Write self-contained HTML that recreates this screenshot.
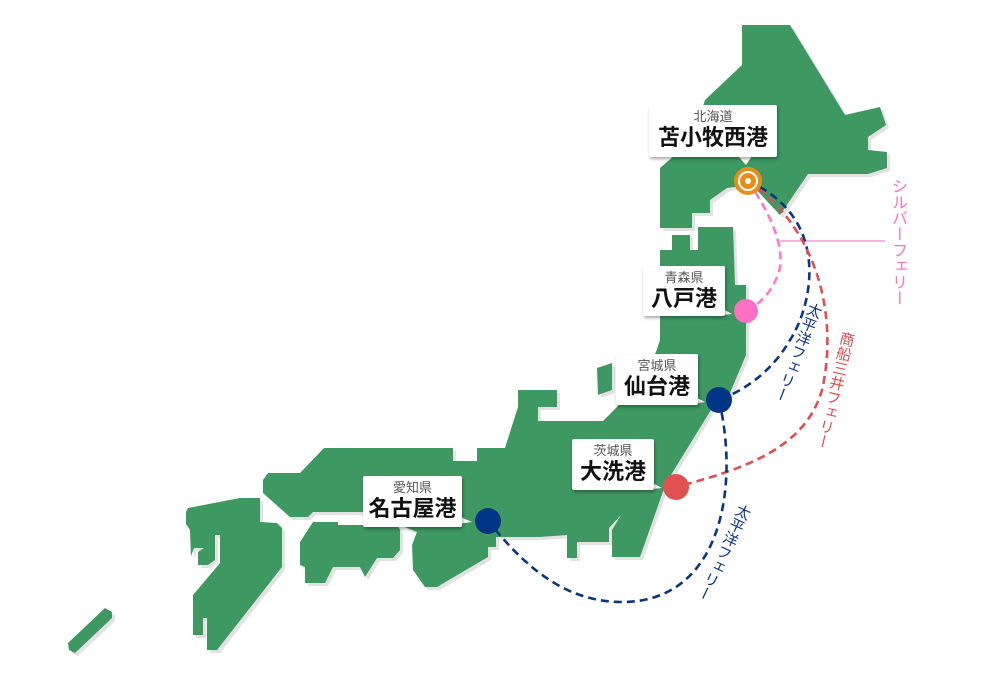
<!DOCTYPE html>
<html><head><meta charset="utf-8"><style>
body{margin:0;background:#fff;}
#w{position:relative;width:1000px;height:678px;overflow:hidden;font-family:"Liberation Sans","Noto Sans CJK JP",sans-serif;}
svg{position:absolute;left:0;top:0}
.box{position:absolute;background:#fff;box-shadow:1px 2px 3px rgba(0,0,0,.35);text-align:center;border-radius:2px}
.box .s{font-size:13px;color:#555;line-height:14px;margin-top:5px}
.box .b{font-size:22px;font-weight:bold;color:#111;line-height:28px;letter-spacing:0px;white-space:nowrap}
.vt{position:absolute;writing-mode:vertical-rl;font-size:15px;line-height:16px;transform:translate(-50%,-50%);white-space:nowrap}
</style></head><body><div id="w">
<svg width="1000" height="678" viewBox="0 0 1000 678">
<defs>
<g id="land">
<polygon points="742,25 790,25 845,115 880,107 886,125 868,137 868,150 887,152 887,168 868,174 808,174 780,215 752,185 727,188 710,200 710,213 692,213 692,228 660,228 660,168 692,140 705,100 742,65"/>
<polygon points="660,250 672,250 672,235 690,235 690,250 698,250 698,227 733,227 735,285 746,285 746,355 727,400 714,405 666,483 640,557 612,557 612,530 621,515 609,528 609,542 577,542 577,558 567,558 567,535 540,537 496,537 496,547 488,547 488,557 437,587 425,587 413,570 412,545 417,532 405,527 400,515 362,512 313,512 308,517 290,517 263,493 263,480 268,473 300,473 324,448 453,448 453,461 477,461 477,448 505,448 518,407 518,390 557,390 557,407 538,407 538,421 603,421 616,408 640,380 656,352 660,340"/>
<polygon points="597,368 612,363 612,390 598,395"/>
<polygon points="300,542 313,522 338,522 338,525 397,525 400,530 400,550 393,558 377,558 365,577 360,567 333,567 325,583 305,583 305,567 300,565"/>
<polygon points="186,512 188,508 240,498 260,498 260,522 277,523 282,528 282,567 217,650 207,650 207,618 203,618 203,635 193,635 193,595 220,563 220,535 215,535 215,560 208,565 198,565 198,552 204,548 194,548 191,556 190,530 186,524"/>
<polygon points="68,643 105,608 112,612 112,618 75,653 69,650"/>
</g></defs>
<use href="#land" fill="#e2e2e2" transform="translate(3,3)"/>
<use href="#land" fill="#3d9862"/>
<line x1="780" y1="241" x2="885" y2="241" stroke="#ff88cc" stroke-width="1.2"/>
<g fill="none" stroke-width="2.6" stroke-dasharray="8,5">
<path d="M748,181 Q785,235 780,268 Q772,298 746,311" stroke="#ff77c8"/>
<path d="M748,181 C835,220 810,310 790,340 C770,375 740,392 719,400" stroke="#0a3580"/>
<path d="M748,181 C820,230 838,320 822,390 C805,450 740,470 676,487" stroke="#e04e52"/>
<path d="M719,400 C740,490 720,602 622,602 C560,602 520,560 488,521" stroke="#0a3580"/>
</g>
<circle cx="746" cy="311" r="12" fill="#ff70c4"/>
<circle cx="719" cy="400" r="13" fill="#003484"/>
<circle cx="676" cy="487" r="13" fill="#e05252"/>
<circle cx="488" cy="521" r="13" fill="#003484"/>
<circle cx="748" cy="181" r="14" fill="#e88e18"/>
<circle cx="748" cy="181" r="9" fill="none" stroke="#fff" stroke-width="2"/>
<circle cx="748" cy="181" r="3" fill="#fff"/>
<polygon points="738,156 752,156 746,165" fill="#fff"/>
<polygon points="712,303 712,316 732,314" fill="#fff"/>
<polygon points="685,392 685,405 705,402" fill="#fff"/>
<polygon points="641,477 641,490 662,488" fill="#fff"/>
<polygon points="449,512 449,525 472,522" fill="#fff"/>
</svg>
<div class="box" style="left:649px;top:105px;width:128px;height:52px"><div class="s">北海道</div><div class="b">苫小牧西港</div></div>
<div class="box" style="left:643px;top:266px;width:82px;height:50px"><div class="s">青森県</div><div class="b">八戸港</div></div>
<div class="box" style="left:616px;top:354px;width:82px;height:51px"><div class="s">宮城県</div><div class="b">仙台港</div></div>
<div class="box" style="left:572px;top:439px;width:82px;height:51px"><div class="s">茨城県</div><div class="b">大洗港</div></div>
<div class="box" style="left:363px;top:476px;width:99px;height:51px"><div class="s">愛知県</div><div class="b">名古屋港</div></div>
<div class="vt" style="left:897px;top:242px;color:#ff70c4;font-size:16px">シルバーフェリー</div>
<div class="vt" style="left:797px;top:352px;color:#0a3580;transform:translate(-50%,-50%) rotate(21deg)">太平洋フェリー</div>
<div class="vt" style="left:834px;top:390px;color:#e04e52;transform:translate(-50%,-50%) rotate(13deg)">商船三井フェリー</div>
<div class="vt" style="left:723px;top:552px;color:#0a3580;transform:translate(-50%,-50%) rotate(25deg)">太平洋フェリー</div>
</div></body></html>
